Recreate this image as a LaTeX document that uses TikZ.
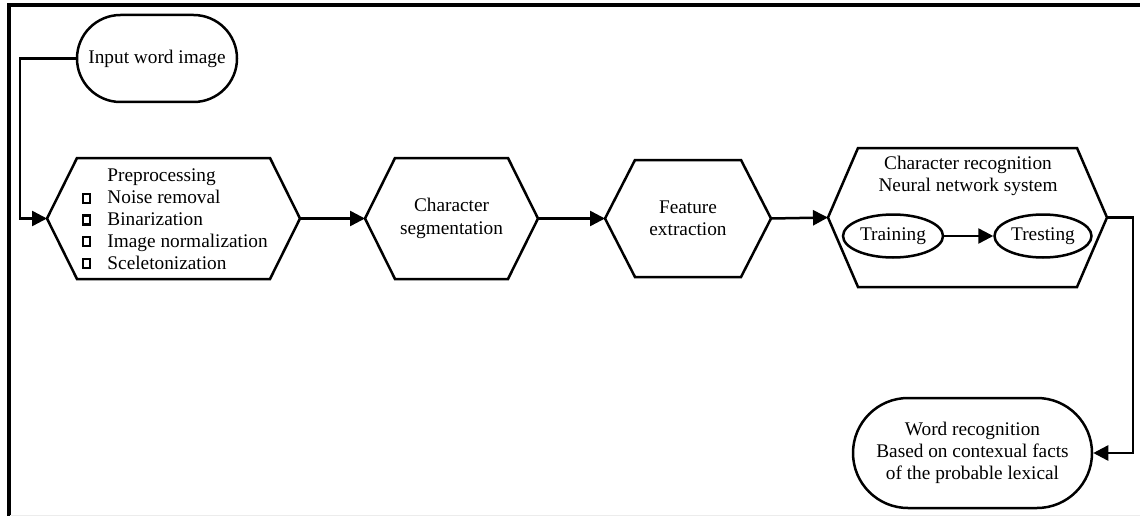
\documentclass[tikz,border=0pt]{standalone}
\usepackage{fontspec}
\setmainfont{Liberation Serif}
\usetikzlibrary{arrows.meta,shapes.misc,shapes.geometric}
\begin{document}
\begin{tikzpicture}[x=1pt,y=-1pt,
  font=\fontsize{19.3}{22.3}\selectfont,
  line width=2.5pt,
  arr/.style={-{Triangle[length=15pt,width=15pt]}},
  box/.style={rectangle,inner sep=0pt,outer sep=0pt,align=center},
  stadium/.style={rounded rectangle,draw,inner sep=0pt,align=center},
  oval/.style={ellipse,draw,inner sep=0pt,minimum height=43pt}
]
\useasboundingbox (0,0) rectangle (1140,516);
\newcommand{\bsq}{\tikz[baseline=0pt,y=1pt]\draw[line width=2.2pt] (0,1pt) rectangle (7pt,10pt);}
% frame
\draw[line width=3.2pt] (9,516) -- (9,5) -- (1140,5);
\draw[gray!15,line width=1pt] (10,515) -- (1140,515);
% nodes
\node[stadium,minimum width=160pt,minimum height=87pt] (inp) at (157,58.5) {Input word image};
\node[box,minimum width=253pt,minimum height=121pt] (pre) at (173.5,218.5) {};
\node[box,anchor=center] (pretext) at (175,221)
  {\begin{tabular}{@{}l@{\hspace{16pt}}l@{}}
   & Preprocessing\\[-0.5pt]
   \bsq & Noise removal\\[-0.5pt]
   \bsq & Binarization\\[-0.5pt]
   \bsq & Image normalization\\[-0.5pt]
   \bsq & Sceletonization
   \end{tabular}};
\node[box,minimum width=173pt,minimum height=121pt] (seg) at (451.5,218.5) {Character\\segmentation};
\node[box,minimum width=166pt,minimum height=117pt] (feat) at (688,218.5) {Feature\\extraction};
\node[box,minimum width=279pt,minimum height=139pt] (rec) at (967.5,217.5) {};
\node[box] (rectitle) at (968,176) {Character recognition\\Neural network system};
\node[oval,minimum width=100pt] (train) at (893,236) {Training};
\node[oval,minimum width=97pt] (test) at (1043,236) {Tresting};
\node[stadium,minimum width=239pt,minimum height=110pt] (word) at (972.5,453)
  {Word recognition\\Based on contexual facts\\of the probable lexical};
% hexagons
\foreach \n in {pre,seg,feat,rec}{
  \draw[line join=miter] (\n.west) -- ([xshift=30pt]\n.north west) -- ([xshift=-30pt]\n.north east)
     -- (\n.east) -- ([xshift=-30pt]\n.south east) -- ([xshift=30pt]\n.south west) -- cycle;
}
% connectors
\coordinate (c1) at (20,58.5);
\coordinate (c2) at (1133,217.5);
\draw[arr] (inp.west) -- (c1) |- (pre.west);
\draw[arr] (pre.east) -- (seg.west);
\draw[arr] (seg.east) -- (feat.west);
\draw[arr] (feat.east) -- (rec.west);
\draw[arr] (train) -- (test);
\draw[arr] (rec.east) -- (c2) |- (word.east);
\end{tikzpicture}
\end{document}
